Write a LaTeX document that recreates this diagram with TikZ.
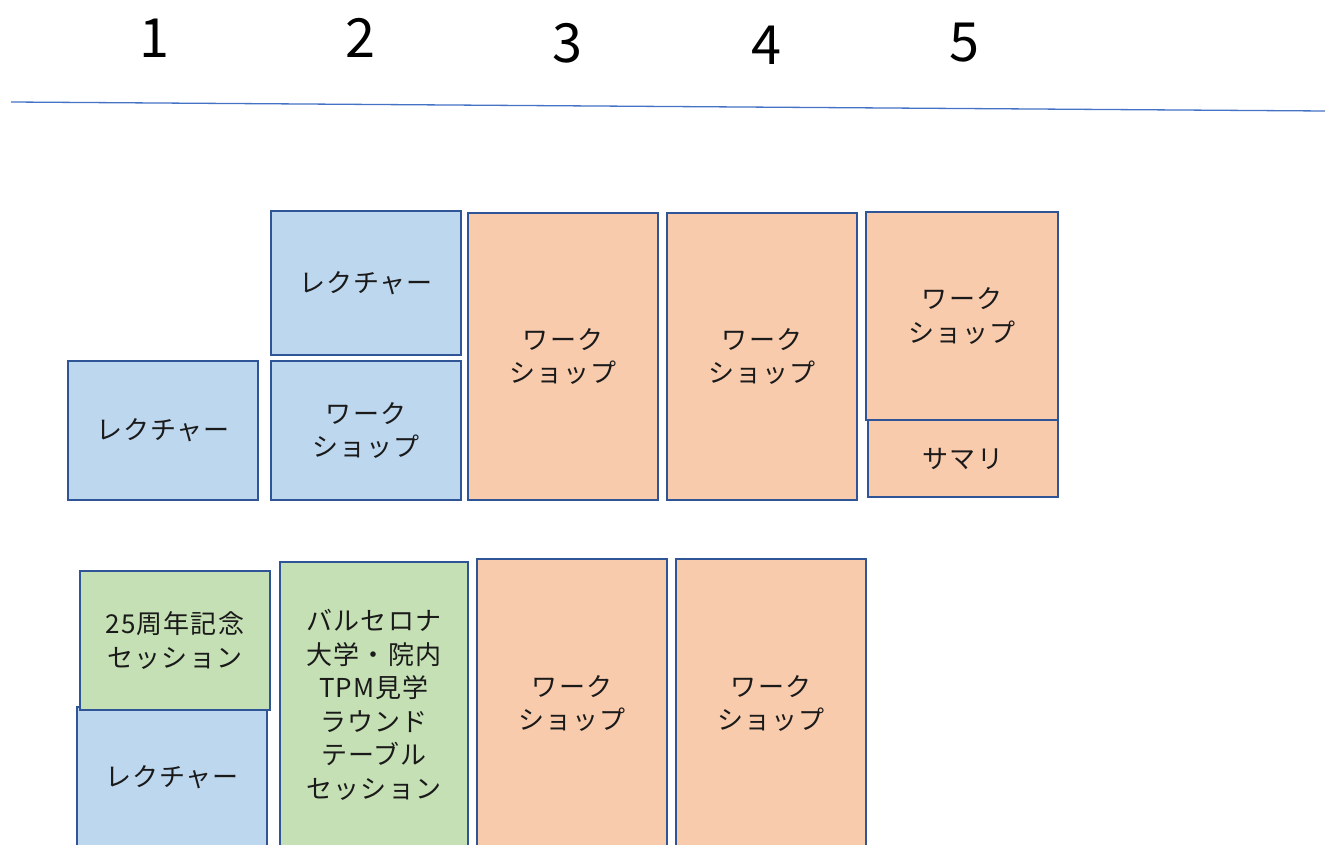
\documentclass[tikz,border=0pt]{standalone}
\usepackage{fontspec}
\setmainfont{Noto Sans CJK JP}
\newfontfamily\boxfont[LetterSpace=4]{Noto Sans CJK JP}
\definecolor{bfill}{HTML}{BDD7EE}
\definecolor{ofill}{HTML}{F8CBAD}
\definecolor{gfill}{HTML}{C5E0B4}
\definecolor{edge}{HTML}{2F5597}
\definecolor{rule}{HTML}{4472C4}
\definecolor{txt}{HTML}{1A1A1A}
\tikzset{
  card/.style={draw=edge, line width=2pt, inner sep=0pt, align=center, text=txt,
    font=\boxfont\fontsize{26}{33.5}\selectfont},
  bluebox/.style={card, fill=bfill},
  orangebox/.style={card, fill=ofill},
  greenbox/.style={card, fill=gfill},
  num/.style={inner sep=0pt, text=black, font=\fontsize{54}{60}\selectfont}
}
\begin{document}
\begin{tikzpicture}[x=1pt,y=1pt]
\useasboundingbox (0,0) rectangle (1325,-845);
\clip (0,0) rectangle (1325,-845);
% column numbers
\node[num] (n1) at (154,-38) {1};
\node[num] (n2) at (360,-38) {2};
\node[num] (n3) at (567,-43) {3};
\node[num] (n4) at (766,-45) {4};
\node[num] (n5) at (964,-43) {5};
\coordinate (ra) at (11,-102);
\coordinate (rb) at (1325,-111);
\draw[rule, line width=1.3pt] (ra) -- (rb);
% row 1
\node[bluebox, minimum width=190, minimum height=139] (l1) at (163,-430.5) {レクチャー};
\node[bluebox, minimum width=190, minimum height=144] (l2a) at (366,-283) {レクチャー};
\node[bluebox, minimum width=190, minimum height=139] (l2b) at (366,-430.5) {ワーク\\ショップ};
\node[orangebox, minimum width=190, minimum height=287] (w3) at (563,-356.5) {ワーク\\ショップ};
\node[orangebox, minimum width=190, minimum height=287] (w4) at (762,-356.5) {ワーク\\ショップ};
\node[orangebox, minimum width=192, minimum height=208] (w5) at (962,-316) {ワーク\\ショップ};
\node[orangebox, minimum width=190, minimum height=77] (s5) at (963,-458.5) {サマリ};
% row 2
\node[bluebox, minimum width=190, minimum height=141] (l1b) at (172,-777.5) {レクチャー};
\node[greenbox, minimum width=190, minimum height=139] (g1) at (175,-640.5) {25周年記念\\セッション};
\node[greenbox, minimum width=188, minimum height=286] (g2) at (374,-705) {バルセロナ\\大学・院内\\TPM見学\\ラウンド\\テーブル\\セッション};
\node[orangebox, minimum width=190, minimum height=289] (w3b) at (572,-703.5) {ワーク\\ショップ};
\node[orangebox, minimum width=190, minimum height=289] (w4b) at (771,-703.5) {ワーク\\ショップ};
\end{tikzpicture}
\end{document}
